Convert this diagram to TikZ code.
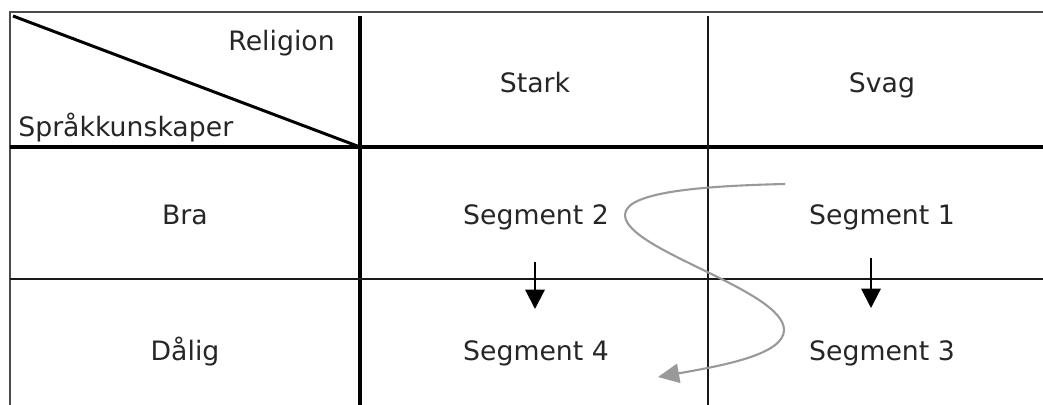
\documentclass[tikz,border=0pt]{standalone}
\usepackage{fontspec}
\setmainfont{DejaVu Sans}
\usepackage{tikz}
\usetikzlibrary{arrows.meta}

\begin{document}
\begin{tikzpicture}[x=0.02cm, y=-0.02cm]

    %--- Styles
    \tikzstyle{cell text}=[anchor=base, inner sep=0pt, font=\fontsize{15.2}{18}\selectfont, text=black!85]
    \tikzstyle{thin rule}=[line width=1.5pt, black!90]
    \tikzstyle{thick rule}=[line width=2.7pt, black]
    \tikzstyle{border}=[line width=1pt, black!70]
    \tikzstyle{down arrow}=[line width=1.2pt, -{Triangle[length=11pt, width=11pt]}]
    \tikzstyle{path arrow}=[line width=1.2pt, black!40, -{Triangle[length=12pt, width=11pt]}]

    \useasboundingbox (0,0) rectangle (1043,405);

    %--- Outer frame (top and left only)
    \draw[border] (1043,12) -- (10,12) -- (10,405);

    %--- Grid
    \draw[thick rule] (360,16) -- (360,405);
    \draw[thick rule] (10,147) -- (1043,147);
    \draw[thin rule]  (708,16) -- (708,405);
    \draw[thin rule]  (10,279) -- (1043,279);

    %--- Header corner
    \draw[line width=1.7pt] (13,16) -- (360,147);
    \node[cell text, anchor=base east] (rel) at (335,51)  {Religion};
    \node[cell text, anchor=base west] (spr) at (18,137)  {Språkkunskaper};

    %--- Column and row headings
    \node[cell text] (stark) at (535,93)  {Stark};
    \node[cell text] (svag)  at (882,93)  {Svag};
    \node[cell text] (bra)   at (185,224) {Bra};
    \node[cell text] (dalig) at (185,360) {Dålig};

    %--- Segments
    \node[cell text] (seg2) at (536,224) {Segment 2};
    \node[cell text] (seg1) at (882,224) {Segment 1};
    \node[cell text] (seg4) at (536,360) {Segment 4};
    \node[cell text] (seg3) at (882,360) {Segment 3};

    %--- Downward moves
    \coordinate (a2) at (535,262);
    \coordinate (b2) at (535,309);
    \coordinate (a1) at (871,258);
    \coordinate (b1) at (871,308);
    \draw[down arrow] (a2) -- (b2);
    \draw[down arrow] (a1) -- (b1);

    %--- Grey S-path from segment 1 to segment 4
    \coordinate (s0) at (785,184);
    \coordinate (s1) at (625,215);
    \coordinate (s2) at (784,330);
    \coordinate (s3) at (658,377);
    \draw[path arrow] (s0) .. controls (700,186) and (625,192) .. (s1)
                           .. controls (625,250) and (784,290) .. (s2)
                           .. controls (784,355) and (720,366) .. (s3);

\end{tikzpicture}
\end{document}
